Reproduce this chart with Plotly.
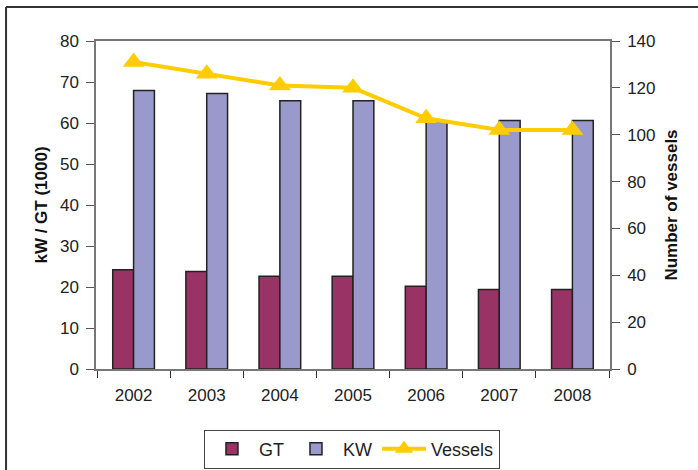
import plotly.graph_objects as go

years = ["2002", "2003", "2004", "2005", "2006", "2007", "2008"]
gt = [24.2, 23.8, 22.6, 22.6, 20.2, 19.4, 19.4]
kw = [67.9, 67.2, 65.4, 65.4, 60.5, 60.6, 60.6]
vessels = [131, 126, 121, 120, 107, 102, 102]

fig = go.Figure()
fig.add_trace(go.Bar(x=years, y=gt, name="GT", marker=dict(color="#993366", line=dict(color="#222222", width=1.5))))
fig.add_trace(go.Bar(x=years, y=kw, name="KW", marker=dict(color="#9999CC", line=dict(color="#222222", width=1.5))))
fig.add_trace(go.Scatter(x=years, y=vessels, name="Vessels", yaxis="y2", mode="lines+markers",
                         line=dict(color="#FFCC00", width=4),
                         marker=dict(symbol="triangle-up", size=19, color="#FFCC00")))

axfont = dict(family="Arial, Liberation Sans", size=17, color="#222222")
titlefont = dict(family="Arial, Liberation Sans", size=17, color="#111111", weight="bold")

fig.update_layout(
    width=698, height=470,
    margin=dict(l=96, r=88, t=41, b=101),
    paper_bgcolor="white", plot_bgcolor="white",
    barmode="group", bargap=0.43, bargroupgap=0,
    font=axfont,
    xaxis=dict(showline=True, linecolor="#777777", linewidth=1.5, mirror=True, automargin=False,
               ticks="outside", ticklen=7, tickcolor="#333333", tickson="boundaries",
               ticklabelstandoff=10, tickfont=axfont, showgrid=False),
    yaxis=dict(range=[0, 80], dtick=10, showline=True, linecolor="#777777", linewidth=1.5, automargin=False,
               ticks="outside", ticklen=8, tickcolor="#555555", tickfont=axfont, showgrid=False,
               ticklabelstandoff=4,
               zeroline=False, title=dict(text="kW / GT (1000)", font=titlefont, standoff=8)),
    yaxis2=dict(range=[0, 140], dtick=20, overlaying="y", side="right", showline=True, automargin=False,
                linecolor="#777777", linewidth=1.5, ticks="outside", ticklen=8, tickcolor="#555555",
                ticklabelstandoff=4,
                tickfont=axfont, showgrid=False, zeroline=False,
                title=dict(text="Number of vessels", font=titlefont, standoff=11)),
    legend=dict(orientation="h", x=0.498, xanchor="center", yref="container", y=0.086, yanchor="top",
                itemwidth=44, bordercolor="#444444", borderwidth=1,
                font=dict(family="Arial, Liberation Sans", size=18, color="#222222"),
                traceorder="normal"),
    showlegend=True,
)

fig.add_shape(type="line", xref="paper", yref="paper", x0=-0.175, x1=1.2, y0=1.104, y1=1.104,
              line=dict(color="#333333", width=2))
fig.add_shape(type="line", xref="paper", yref="paper", x0=-0.175, x1=-0.175, y0=1.104, y1=-0.31,
              line=dict(color="#333333", width=2))

# drop the default page margin so the figure sits at the window corner
fig.write_html("out.html", config={"displayModeBar": False},
               post_script="document.body.style.margin='0px';")
